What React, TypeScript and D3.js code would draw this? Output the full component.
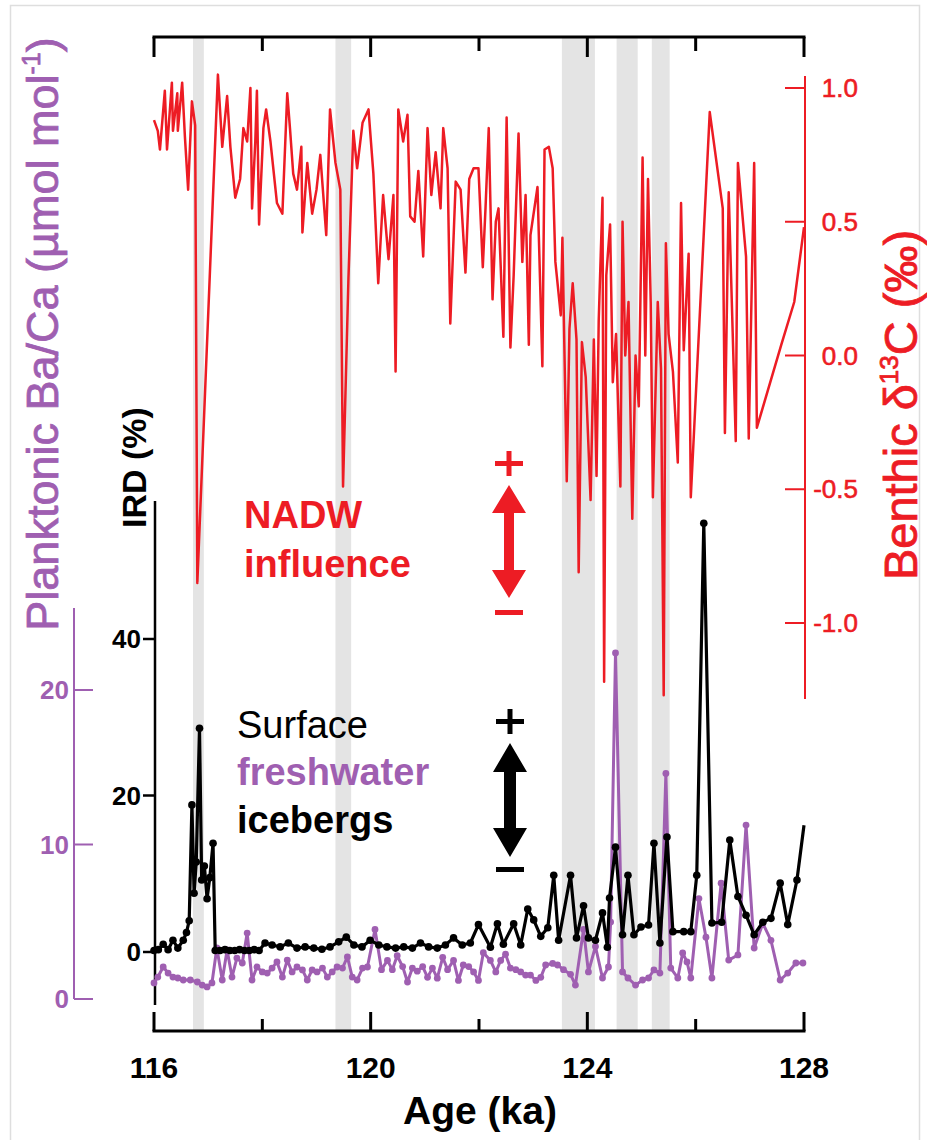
import React from 'react';
import * as d3 from 'd3';

// ---------- axis ticks ----------
const ageTicks = [116, 118, 120, 122, 124, 126, 128];
const ageLabels = [116, 120, 124, 128];
const d13cTicks = [1.0, 0.5, 0.0, -0.5, -1.0];
const irdTicks = [0, 20, 40];
const baCaTicks = [0, 10, 20];

// ---------- shaded intervals (ka) ----------
const bandStart = [116.72, 119.35, 123.53, 124.54, 125.19];
const bandEnd = [116.92, 119.64, 124.14, 124.93, 125.52];

// ---------- benthic d13C (permil) ----------
const d13cAge = [
  116.0, 116.07, 116.11, 116.2, 116.24, 116.33, 116.35, 116.43, 116.44, 116.52, 116.57, 116.63, 116.7, 116.76, 116.8,
  117.18, 117.26, 117.35, 117.41, 117.5, 117.59, 117.65, 117.72, 117.78, 117.81, 117.87, 117.9, 117.94, 118.02, 118.07,
  118.15, 118.27, 118.37, 118.46, 118.51, 118.57, 118.64, 118.72, 118.74, 118.83, 118.92, 119.0, 119.07, 119.18, 119.25,
  119.35, 119.44, 119.49, 119.59, 119.68, 119.75, 119.85, 119.96, 120.05, 120.14, 120.23, 120.33, 120.42, 120.46, 120.51,
  120.6, 120.68, 120.73, 120.81, 120.88, 120.97, 121.05, 121.12, 121.2, 121.29, 121.34, 121.42, 121.47, 121.57, 121.66,
  121.75, 121.82, 121.9, 121.99, 122.07, 122.12, 122.18, 122.25, 122.31, 122.36, 122.45, 122.51, 122.58, 122.64, 122.73,
  122.8, 122.86, 122.92, 122.95, 123.08, 123.17, 123.21, 123.29, 123.36, 123.41, 123.51, 123.54, 123.62, 123.67, 123.73,
  123.8, 123.84, 123.9, 123.97, 124.06, 124.12, 124.17, 124.21, 124.28, 124.31, 124.35, 124.42, 124.47, 124.53, 124.61,
  124.65, 124.7, 124.76, 124.83, 124.89, 124.95, 125.02, 125.07, 125.12, 125.17, 125.21, 125.3, 125.36, 125.41, 125.45,
  125.5, 125.58, 125.67, 125.73, 125.78, 125.87, 125.91, 126.26, 126.5, 126.54, 126.61, 126.74, 126.78, 126.93, 126.98,
  127.08, 127.13, 127.58, 127.82, 128.0,
];
const d13cVal = [
  0.88, 0.84, 0.77, 0.99, 0.77, 1.02, 0.84, 0.98, 0.84, 1.02, 0.82, 0.62, 0.95, 0.86, -0.85,
  1.05, 0.78, 0.97, 0.78, 0.59, 0.66, 0.85, 0.8, 1.0, 0.55, 0.8, 0.99, 0.49, 0.85, 0.92,
  0.8, 0.57, 0.53, 0.98, 0.85, 0.68, 0.62, 0.78, 0.46, 0.72, 0.53, 0.62, 0.75, 0.45, 0.92,
  0.72, 0.62, -0.49, 0.29, 0.84, 0.7, 0.87, 0.92, 0.68, 0.27, 0.6, 0.36, 0.6, -0.06, 0.92,
  0.8, 0.9, 0.52, 0.5, 0.69, 0.37, 0.85, 0.6, 0.76, 0.55, 0.85, 0.7, 0.12, 0.65, 0.62,
  0.31, 0.66, 0.7, 0.7, 0.33, 0.55, 0.85, 0.21, 0.5, 0.55, 0.07, 0.89, 0.03, 0.3, 0.83,
  0.35, 0.6, 0.04, 0.45, 0.63, -0.04, 0.77, 0.78, 0.7, 0.35, 0.15, 0.44, -0.47, 0.1, 0.27,
  0.06, -0.81, 0.05, -0.08, -0.54, 0.06, -0.45, 0.13, 0.59, -1.22, 0.3, 0.49, -0.1, 0.08, -0.49,
  0.5, 0.0, 0.2, -0.61, 0.0, -0.19, 0.74, 0.0, 0.66, 0.2, -0.53, 0.2, -0.05, -1.27, 0.42,
  0.08, -0.06, -0.4, 0.57, 0.02, 0.38, -0.53, 0.91, 0.55, -0.29, 0.61, -0.32, 0.72, 0.37, -0.31,
  0.72, -0.27, 0.04, 0.2, 0.48,
];

// ---------- IRD (%) ----------
const irdAge = [
  116.0, 116.08, 116.17, 116.26, 116.35, 116.44, 116.54, 116.6, 116.65, 116.7, 116.74, 116.78, 116.84, 116.88, 116.93,
  116.98, 117.03, 117.09, 117.13, 117.22, 117.31, 117.4, 117.49, 117.58, 117.67, 117.76, 117.85, 117.94, 118.05, 118.18,
  118.33, 118.48, 118.64, 118.79, 118.95, 119.1, 119.25, 119.41, 119.55, 119.69, 119.84, 119.99, 120.15, 120.3, 120.46,
  120.61, 120.77, 120.92, 121.07, 121.23, 121.38, 121.53, 121.69, 121.84, 121.99, 122.21, 122.34, 122.45, 122.64, 122.77,
  122.9, 123.01, 123.14, 123.27, 123.38, 123.47, 123.69, 123.8, 123.93, 124.02, 124.15, 124.28, 124.37, 124.41, 124.52,
  124.65, 124.75, 124.86, 124.99, 125.13, 125.23, 125.34, 125.47, 125.58, 125.78, 125.91, 126.02, 126.15, 126.3, 126.48,
  126.63, 126.78, 126.93, 127.08, 127.24, 127.39, 127.56, 127.7, 127.87, 128.0,
];
const irdVal = [
  0.2, 0.3, 1.0, 0.3, 1.5, 0.5, 1.5, 2.5, 4.0, 18.8, 7.5, 11.5, 28.6, 9.2, 11.0,
  6.8, 9.5, 13.9, 0.2, 0.2, 0.3, 0.2, 0.2, 0.3, 0.2, 0.2, 0.3, 0.2, 1.15, 0.9,
  0.65, 1.15, 0.5, 0.65, 0.5, 0.35, 0.65, 1.3, 1.9, 0.9, 0.65, 1.5, 0.9, 0.65, 0.5,
  0.65, 0.5, 1.15, 0.65, 0.5, 0.9, 1.8, 0.9, 1.15, 3.5, 0.6, 3.6, 1.0, 3.6, 0.9,
  5.5, 4.1, 2.0, 3.1, 9.8, 1.5, 9.8, 1.8, 5.9, 1.8, 1.5, 5.0, 0.6, 6.9, 13.4,
  2.2, 9.8, 2.2, 3.2, 3.45, 13.9, 1.15, 14.7, 2.6, 2.6, 2.6, 9.8, 54.8, 3.7, 3.8,
  14.3, 7.1, 4.7, 2.2, 3.8, 4.3, 8.8, 3.5, 9.2, 16.2,
];

// ---------- planktonic Ba/Ca (umol/mol) ----------
const baCaAge = [
  116.0, 116.07, 116.17, 116.26, 116.35, 116.44, 116.54, 116.67, 116.8, 116.89, 116.98, 117.07, 117.16, 117.26, 117.35,
  117.44, 117.53, 117.63, 117.72, 117.81, 117.9, 118.0, 118.09, 118.18, 118.27, 118.37, 118.46, 118.55, 118.64, 118.74,
  118.83, 118.92, 119.01, 119.11, 119.2, 119.29, 119.38, 119.48, 119.57, 119.66, 119.75, 119.85, 119.94, 120.08, 120.2,
  120.31, 120.4, 120.49, 120.59, 120.68, 120.77, 120.86, 120.96, 121.05, 121.14, 121.23, 121.33, 121.42, 121.53, 121.62,
  121.71, 121.81, 121.9, 121.99, 122.08, 122.21, 122.31, 122.4, 122.49, 122.58, 122.68, 122.77, 122.86, 122.95, 123.05,
  123.14, 123.23, 123.36, 123.45, 123.56, 123.69, 123.78, 123.93, 124.02, 124.15, 124.28, 124.39, 124.43, 124.52, 124.65,
  124.75, 124.89, 125.02, 125.13, 125.23, 125.34, 125.45, 125.54, 125.67, 125.76, 125.84, 125.91, 126.06, 126.19, 126.3,
  126.47, 126.61, 126.78, 126.93, 127.08, 127.24, 127.39, 127.56, 127.7, 127.85, 127.98,
];
const baCaVal = [
  1.04, 1.42, 2.07, 1.68, 1.42, 1.36, 1.23, 1.23, 1.1, 0.9, 0.78, 1.04, 3.3, 1.23, 3.17,
  1.42, 2.65, 2.33, 4.27, 1.23, 2.07, 1.75, 1.68, 2.0, 2.4, 1.42, 2.52, 1.75, 2.07, 1.88,
  1.23, 1.88, 1.75, 2.0, 1.42, 1.75, 2.07, 2.0, 2.72, 1.42, 1.23, 2.0, 2.07, 4.5, 1.9,
  2.5, 1.9, 2.8, 2.1, 1.1, 2.0, 1.8, 2.1, 1.4, 2.0, 1.35, 2.7, 1.9, 2.5, 1.2,
  2.2, 2.1, 1.75, 1.2, 3.0, 2.5, 1.75, 2.5, 2.9, 2.0, 1.9, 1.75, 1.55, 1.55, 1.2,
  1.4, 2.2, 2.3, 2.2, 1.9, 1.6, 0.9, 4.5, 1.75, 3.4, 1.36, 2.07, 4.98, 22.4, 1.75,
  1.36, 0.9, 1.23, 1.36, 1.88, 1.68, 14.6, 2.0, 1.36, 2.98, 2.4, 1.36, 6.5, 4.0, 1.36,
  7.5, 2.52, 2.85, 11.26, 3.3, 4.9, 3.8, 1.23, 1.68, 2.33, 2.33,
];

const RED = '#ed1c24';
const PURPLE = '#9f5fb1';
const BAND = '#e4e4e4';
const FONT = '"Liberation Sans", Arial, Helvetica, sans-serif';

export default function App() {
  const W = 927;
  const H = 1140;
  const x = d3.scaleLinear().domain([116, 128]).range([154, 804]);
  const yC = d3.scaleLinear().domain([-1, 1]).range([623, 88]);
  const yI = d3.scaleLinear().domain([0, 40]).range([952, 639]);
  const yB = d3.scaleLinear().domain([0, 20]).range([999, 690]);

  const redPts: [number, number][] = d13cAge.map((a, i) => [a, d13cVal[i]]);
  const irdPts: [number, number][] = irdAge.map((a, i) => [a, irdVal[i]]);
  const baPts: [number, number][] = baCaAge.map((a, i) => [a, baCaVal[i]]);

  const redLine = d3.line<[number, number]>().x((d) => x(d[0])).y((d) => yC(d[1]));
  const irdLine = d3.line<[number, number]>().x((d) => x(d[0])).y((d) => yI(d[1]));
  const baLine = d3.line<[number, number]>().x((d) => x(d[0])).y((d) => yB(d[1]));

  const topY = 37;
  const botY = 1031;
  const redAxisX = 805;
  const irdAxisX = 155;
  const baAxisX = 74;
  const tickFont = 26;

  const arrow = (cx: number, apexTop: number, baseTop: number, baseBot: number, apexBot: number, hw: number, sw: number) =>
    `M${cx},${apexTop} L${cx + hw},${baseTop} L${cx + sw},${baseTop} L${cx + sw},${baseBot} L${cx + hw},${baseBot} L${cx},${apexBot} L${cx - hw},${baseBot} L${cx - sw},${baseBot} L${cx - sw},${baseTop} L${cx - hw},${baseTop} Z`;

  return (
    <svg width={W} height={H} style={{ position: 'absolute', left: 0, top: 0, background: '#fff' }} fontFamily={FONT}>
      <rect x={10.5} y={5.5} width={909} height={1150} fill="none" stroke="#dedede" strokeWidth={1.5} />

      {/* shaded intervals */}
      {bandStart.map((s, i) => (
        <rect key={'b' + i} x={x(s)} y={topY} width={x(bandEnd[i]) - x(s)} height={botY - topY} fill={BAND} />
      ))}

      {/* top axis */}
      <line x1={x(116) - 1.5} x2={x(128) + 1.5} y1={topY} y2={topY} stroke="#000" strokeWidth={3} />
      {ageTicks.map((t) => (
        <line key={'tt' + t} x1={x(t)} x2={x(t)} y1={topY} y2={topY + (ageLabels.includes(t) ? 20 : 14)} stroke="#000" strokeWidth={3} />
      ))}

      {/* bottom axis */}
      <line x1={x(116) - 1.5} x2={x(128) + 1.5} y1={botY} y2={botY} stroke="#000" strokeWidth={3} />
      {ageTicks.map((t) => (
        <line key={'bt' + t} x1={x(t)} x2={x(t)} y1={botY} y2={botY - (ageLabels.includes(t) ? 19 : 12)} stroke="#000" strokeWidth={3} />
      ))}
      {ageLabels.map((t) => (
        <text key={'bl' + t} x={x(t)} y={1078} textAnchor="middle" fontSize={30} fontWeight="bold" fill="#000">
          {t}
        </text>
      ))}
      <text x={480} y={1124} textAnchor="middle" fontSize={39} fontWeight="bold" fill="#000">
        Age (ka)
      </text>

      {/* red d13C */}
      <path d={redLine(redPts) || ''} fill="none" stroke={RED} strokeWidth={2.5} strokeLinejoin="round" />
      <line x1={redAxisX} x2={redAxisX} y1={76} y2={699} stroke={RED} strokeWidth={2} />
      {d13cTicks.map((t) => (
        <g key={'rt' + t}>
          <line x1={redAxisX - 20} x2={redAxisX} y1={yC(t)} y2={yC(t)} stroke={RED} strokeWidth={2} />
          <text x={858} y={yC(t) + 9} textAnchor="end" fontSize={tickFont} fill={RED} stroke={RED} strokeWidth={0.6}>
            {t === 0 ? '0.0' : t.toFixed(1)}
          </text>
        </g>
      ))}
      <text transform="translate(917,405) rotate(-90)" textAnchor="middle" fontSize={47} fill={RED} stroke={RED} strokeWidth={0.8}>
        Benthic δ<tspan fontSize={26} dy={-19}>13</tspan>
        <tspan dy={19}>C (‰)</tspan>
      </text>

      {/* purple Ba/Ca axis */}
      <line x1={baAxisX} x2={baAxisX} y1={608} y2={yB(0)} stroke={PURPLE} strokeWidth={2} />
      {baCaTicks.map((t) => (
        <g key={'pt' + t}>
          <line x1={baAxisX} x2={baAxisX + 19} y1={yB(t)} y2={yB(t)} stroke={PURPLE} strokeWidth={2} />
          <text x={69} y={yB(t) + 9} textAnchor="end" fontSize={tickFont} fontWeight="bold" fill={PURPLE}>
            {t}
          </text>
        </g>
      ))}
      <text transform="translate(58,334) rotate(-90)" textAnchor="middle" fontSize={45} fill={PURPLE} stroke={PURPLE} strokeWidth={0.8}>
        Planktonic Ba/Ca (µmol mol<tspan fontSize={25} dy={-18}>-1</tspan>
        <tspan dy={18}>)</tspan>
      </text>

      {/* IRD axis */}
      <line x1={irdAxisX} x2={irdAxisX} y1={501} y2={1005} stroke="#000" strokeWidth={2.5} />
      {irdTicks.map((t) => (
        <g key={'it' + t}>
          <line x1={irdAxisX - 12} x2={irdAxisX} y1={yI(t)} y2={yI(t)} stroke="#000" strokeWidth={2.5} />
          <text x={141} y={yI(t) + 9} textAnchor="end" fontSize={tickFont} fontWeight="bold" fill="#000">
            {t}
          </text>
        </g>
      ))}
      <text transform="translate(146,528) rotate(-90)" textAnchor="start" fontSize={34} fontWeight="bold" fill="#000">
        IRD (%)
      </text>

      {/* Ba/Ca series */}
      <path d={baLine(baPts) || ''} fill="none" stroke={PURPLE} strokeWidth={3} strokeLinejoin="round" />
      {baPts.map((d, i) => (
        <circle key={'pc' + i} cx={x(d[0])} cy={yB(d[1])} r={3.4} fill={PURPLE} />
      ))}

      {/* IRD series */}
      <path d={irdLine(irdPts) || ''} fill="none" stroke="#000" strokeWidth={3.2} strokeLinejoin="round" />
      {irdPts.slice(0, -1).map((d, i) => (
        <circle key={'ic' + i} cx={x(d[0])} cy={yI(d[1])} r={3.8} fill="#000" />
      ))}

      {/* annotations */}
      <text x={244} y={528} fontSize={38} fontWeight="bold" fill={RED}>NADW</text>
      <text x={244} y={577} fontSize={38} fontWeight="bold" fill={RED}>influence</text>
      <rect x={495} y={461} width={28} height={5} fill={RED} />
      <rect x={506.5} y={451} width={5} height={25} fill={RED} />
      <path d={arrow(509, 485, 513, 570, 598, 17, 5)} fill={RED} />
      <rect x={495} y={610} width={28} height={5} fill={RED} />

      <text x={237} y={738} fontSize={38} fill="#000">Surface</text>
      <text x={237} y={785} fontSize={38} fontWeight="bold" fill={PURPLE}>freshwater</text>
      <text x={237} y={833} fontSize={38} fontWeight="bold" fill="#000">icebergs</text>
      <rect x={496} y={719} width={28} height={5} fill="#000" />
      <rect x={507.5} y={709} width={5} height={25} fill="#000" />
      <path d={arrow(510, 743, 772, 828, 857, 17, 6)} fill="#000" />
      <rect x={496} y={867} width={28} height={5} fill="#000" />
    </svg>
  );
}
